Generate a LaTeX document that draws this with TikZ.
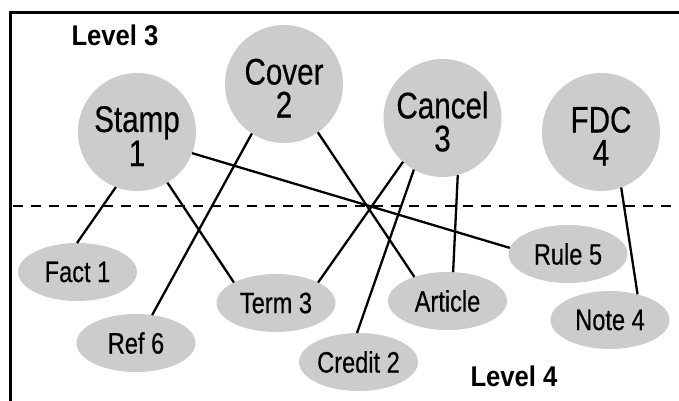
\documentclass[tikz,border=0pt]{standalone}
\usepackage{fontspec}
\usetikzlibrary{shapes.geometric}
\newfontfamily\condfont[FakeStretch=0.8,FakeBold=0.4]{Liberation Sans}
\newfontfamily\lvlfont[FakeStretch=0.9]{Liberation Sans}
\definecolor{nodegray}{RGB}{204,204,204}
\newcommand{\shiftstrut}{\rule{0pt}{34pt}}
\tikzset{
  bigcirc/.style={circle, fill=nodegray, minimum size=118pt, inner sep=0pt, outer sep=0pt,
    align=center, font=\condfont\fontsize{37}{33}\selectfont},
  smallell/.style={ellipse, fill=nodegray, minimum width=119pt, minimum height=58pt,
    inner sep=0pt, outer sep=0pt, font=\condfont\fontsize{29.5}{30}\selectfont},
  lvl/.style={font=\lvlfont\bfseries\fontsize{28.5}{30}\selectfont, inner sep=0pt},
  conn/.style={line width=2.3pt},
}
\begin{document}
\begin{tikzpicture}[x=1pt,y=-1pt]
\useasboundingbox (0,0) rectangle (679,400);
\fill[white] (0,0) rectangle (679,400);
% frame
\draw[line width=2.8pt] (10.5,410) -- (10.5,12.5) -- (690,12.5);
% dashed separator
\coordinate (dl) at (13,205.7);
\coordinate (dr) at (679,205.7);
\draw[line width=2.4pt, dash pattern=on 10pt off 8pt] (dl) -- (dr);
% level labels
\node[lvl] (L3) at (115,35) {Level 3};
\node[lvl] (L4) at (514,376) {Level 4};
% level 3 nodes
\node[bigcirc] (Stamp) at (137,132) {\shiftstrut Stamp\\1};
\node[bigcirc] (Cover) at (284,84) {\shiftstrut Cover\\2};
\node[bigcirc] (Cancel) at (442.5,118) {\shiftstrut Cancel\\3};
\node[bigcirc] (FDC) at (601,132) {\shiftstrut FDC\\4};
% level 4 nodes
\node[smallell] (Fact) at (77.5,272) {Fact 1};
\node[smallell] (Term) at (276,303) {Term 3};
\node[smallell] (Ref) at (136,343) {Ref 6};
\node[smallell] (Credit) at (358.5,362) {Credit 2};
\node[smallell] (Article) at (447.5,301) {Article};
\node[smallell] (Rule) at (568,254) {Rule 5};
\node[smallell] (Note) at (610,320) {Note 4};
% connectors
\draw[conn] (Stamp.-111.5) -- (Fact.91);
\draw[conn] (Stamp.-59) -- (Term.154);
\draw[conn] (Stamp.-21) -- (Rule.174);
\draw[conn] (Cover.-123) -- (Ref.60);
\draw[conn] (Cover.-55) -- (Article.144);
\draw[conn] (Cancel.-132.6) -- (Term.26.6);
\draw[conn] (Cancel.-119.6) -- (Credit.93);
\draw[conn] (Cancel.-75) -- (Article.79);
\draw[conn] (FDC.-70.3) -- (Note.43);
\end{tikzpicture}
\end{document}
